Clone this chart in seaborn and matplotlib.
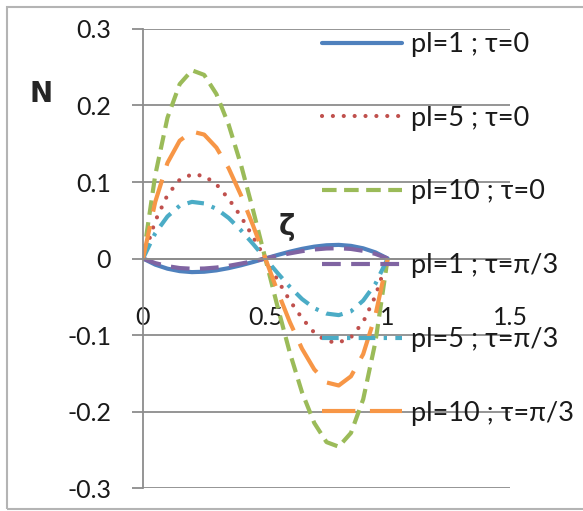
import matplotlib
matplotlib.use("Agg")
import matplotlib.pyplot as plt
import seaborn as sns
import pandas as pd
from matplotlib.lines import Line2D
from matplotlib.patches import Rectangle

# ---------------- data ----------------
zeta = [0.0, 0.05, 0.10, 0.15, 0.20, 0.25, 0.30, 0.35, 0.40, 0.45, 0.50,
        0.55, 0.60, 0.65, 0.70, 0.75, 0.80, 0.85, 0.90, 0.95, 1.0]

n_pl1_t0 = [0.0, -0.0080, -0.0133, -0.0165, -0.0178, -0.0173, -0.0155, -0.0126, -0.0089, -0.0046, 0.0,
            0.0046, 0.0089, 0.0126, 0.0155, 0.0173, 0.0178, 0.0165, 0.0133, 0.0080, 0.0]
n_pl5_t0 = [0.0, 0.049, 0.083, 0.103, 0.110, 0.108, 0.097, 0.078, 0.055, 0.028, 0.0,
            -0.028, -0.055, -0.078, -0.097, -0.108, -0.110, -0.103, -0.083, -0.049, 0.0]
n_pl10_t0 = [0.0, 0.109, 0.184, 0.228, 0.246, 0.240, 0.215, 0.175, 0.123, 0.063, 0.0,
             -0.063, -0.123, -0.175, -0.215, -0.240, -0.246, -0.228, -0.184, -0.109, 0.0]
n_pl1_t3 = [0.0, -0.0060, -0.0100, -0.0125, -0.0134, -0.0131, -0.0118, -0.0096, -0.0067, -0.0035, 0.0,
            0.0035, 0.0067, 0.0096, 0.0118, 0.0131, 0.0134, 0.0125, 0.0100, 0.0060, 0.0]
n_pl5_t3 = [0.0, 0.033, 0.055, 0.069, 0.074, 0.072, 0.065, 0.053, 0.037, 0.019, 0.0,
            -0.019, -0.037, -0.053, -0.065, -0.072, -0.074, -0.069, -0.055, -0.033, 0.0]
n_pl10_t3 = [0.0, 0.074, 0.125, 0.154, 0.166, 0.162, 0.145, 0.118, 0.083, 0.043, 0.0,
             -0.043, -0.083, -0.118, -0.145, -0.162, -0.166, -0.154, -0.125, -0.074, 0.0]

labels = ["pl=1 ; τ=0", "pl=5 ; τ=0", "pl=10 ; τ=0",
          "pl=1 ; τ=π/3", "pl=5 ; τ=π/3", "pl=10 ; τ=π/3"]
series = [n_pl1_t0, n_pl5_t0, n_pl10_t0, n_pl1_t3, n_pl5_t3, n_pl10_t3]

xticks = [0, 0.5, 1, 1.5]
xticklabels = ["0", "0.5", "1", "1.5"]
yticks = [-0.3, -0.2, -0.1, 0, 0.1, 0.2, 0.3]
yticklabels = ["-0.3", "-0.2", "-0.1", "0", "0.1", "0.2", "0.3"]

# ---------------- styles ----------------
colors = ["#4F81BD", "#C0504D", "#9BBB59", "#8064A2", "#4BACC6", "#F79646"]
dashes = [None, (0.01, 2.6), (3.5, 1.8), (4.5, 2.5), (4.0, 2.0, 0.8, 2.0), (8.0, 3.5)]
caps = ["butt", "round", "butt", "butt", "butt", "butt"]
LW = 3.0

sns.set_theme(style="white")
plt.rcParams["font.family"] = ["Lato", "DejaVu Sans"]

fig = plt.figure(figsize=(5.83, 5.11), dpi=100)
W, H = 583, 511
ax = fig.add_axes([143 / W, (H - 488) / H, (510 - 143) / W, (488 - 29) / H])

frames = []
for lab, vals in zip(labels, series):
    frames.append(pd.DataFrame({"zeta": zeta, "N": vals, "series": lab}))
df = pd.concat(frames, ignore_index=True)

for lab, col, d, cap in zip(labels, colors, dashes, caps):
    sub = df[df["series"] == lab]
    sns.lineplot(data=sub, x="zeta", y="N", color=col, linewidth=LW,
                 sort=False, legend=False, ax=ax)
    ln = ax.lines[-1]
    if d is not None:
        ln.set_dashes(d)
    ln.set_dash_capstyle(cap)
    ln.set_solid_capstyle("round")

ax.set_xlim(0, 1.5)
ax.set_ylim(-0.3, 0.3)

gray = "#8C8C8C"
ax.set_yticks(yticks)
ax.set_yticklabels(yticklabels)
ax.set_xticks(xticks)
ax.set_xticklabels(xticklabels)
ax.yaxis.grid(True, color=gray, linewidth=1.3)
ax.xaxis.grid(False)
ax.set_axisbelow(True)

for s in ["top", "right"]:
    ax.spines[s].set_visible(False)
ax.spines["left"].set_color(gray)
ax.spines["left"].set_linewidth(1.3)
ax.spines["bottom"].set_position(("data", 0))
ax.spines["bottom"].set_color(gray)
ax.spines["bottom"].set_linewidth(1.3)

ax.tick_params(axis="y", which="major", direction="out", length=8, width=1.3,
               color=gray, pad=15, labelsize=18, labelcolor="#1a1a1a", left=True)
ax.tick_params(axis="x", which="major", length=0, pad=34, labelsize=18,
               labelcolor="#1a1a1a", bottom=True)

ax.set_xlabel("ζ", fontsize=20, fontweight="bold", family=["DejaVu Sans"])
ax.xaxis.set_label_coords((287 - 143) / 367, (488 - 213) / 459)
ax.xaxis.label.set_va("top")
ax.set_ylabel("N", fontsize=20, fontweight="bold", rotation=0,
              family=["DejaVu Sans"])
ax.yaxis.set_label_coords((41 - 143) / 367, (488 - 94) / 459)
ax.yaxis.label.set_va("center")
ax.yaxis.label.set_ha("center")

handles = []
for col, d, cap in zip(colors, dashes, caps):
    h = Line2D([0], [0], color=col, linewidth=LW)
    if d is not None:
        h.set_dashes(d)
    h.set_dash_capstyle(cap)
    handles.append(h)

leg = fig.legend(handles, labels, loc="upper left",
                 bbox_to_anchor=(322 / W, (H - 32) / H),
                 frameon=False, fontsize=19.5, handlelength=2.95,
                 handletextpad=0.35, labelspacing=1.8, borderpad=0,
                 borderaxespad=0)
for t in leg.get_texts():
    t.set_color("#1a1a1a")

fig.patches.append(Rectangle((7 / W, 2 / H), 1.2, (H - 9) / H,
                             transform=fig.transFigure, fill=False,
                             edgecolor="#B4B4B4", linewidth=1.5, zorder=0))

fig.savefig("out.png", dpi=100)
